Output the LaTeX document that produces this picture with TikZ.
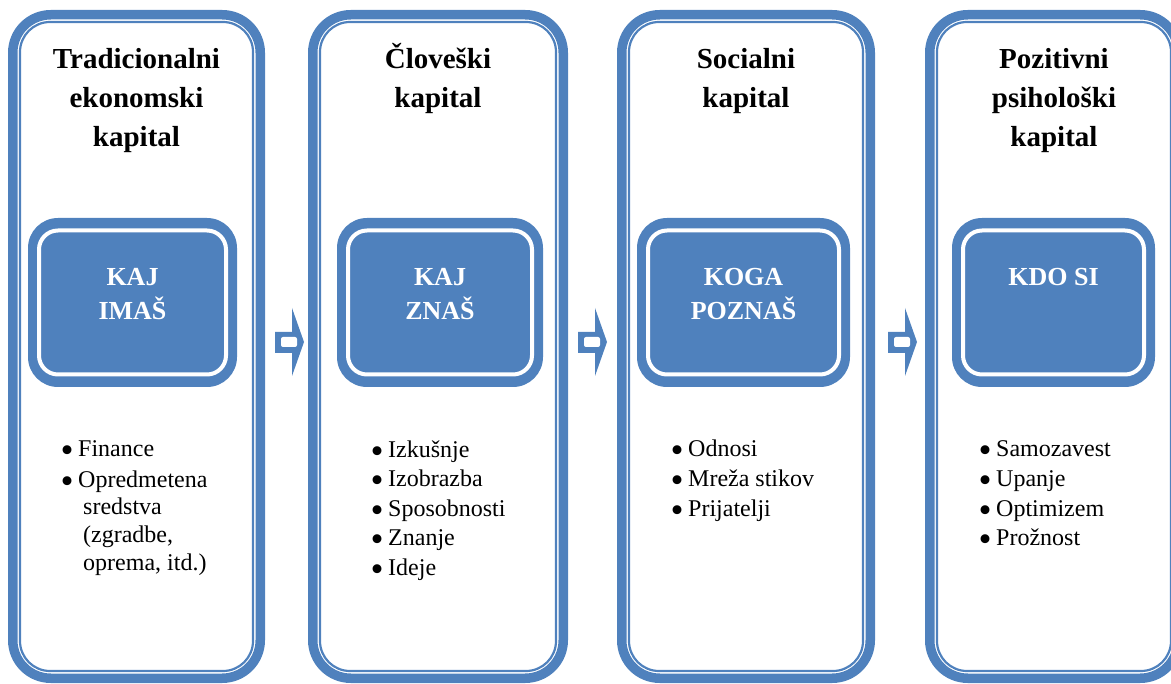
\documentclass[tikz,border=0pt]{standalone}
\usepackage{fontspec}
\usepackage{graphicx}
\setmainfont{Liberation Serif}
\definecolor{capblue}{HTML}{4F81BD}
% list entry: enlarged bullet in a fixed-width slot, then the entry text
\newcommand{\itm}[1]{\makebox[17.5pt][l]{\raisebox{-6pt}{\scalebox{1.55}{•}}}#1}
\begin{document}
\begin{tikzpicture}[x=1pt,y=-1pt,
  band/.style={draw=capblue, line width=9.5pt, rounded corners=38pt},
  rim/.style={draw=capblue, line width=2.2pt, rounded corners=30pt},
  core/.style={fill=capblue, rounded corners=30pt},
  coreline/.style={draw=white, line width=4pt, rounded corners=19pt},
  title/.style={anchor=base, inner sep=0pt, font=\fontsize{29}{35}\selectfont\bfseries},
  key/.style={anchor=base, inner sep=0pt, text=white, font=\fontsize{26}{31}\selectfont\bfseries},
  item/.style={anchor=base west, inner sep=0pt, font=\fontsize{24}{28}\selectfont}]
\useasboundingbox (0,0) rectangle (1171,684);
\clip (0,0) rectangle (1171,684);

% four capital panels: thick outer band with a thin inner rim
\foreach \l/\r in {8/265, 308/568, 617/875, 925/1183} {
  \draw[band] (\l+4.75,14.75) rectangle (\r-4.75,678.25);
  \draw[rim]  (\l+12,22) rectangle (\r-12,671);
}

% filled key boxes with a white inner line
\foreach \a/\b in {28/237, 337/543, 637/850, 952/1155} {
  \fill[core] (\a,218) rectangle (\b,387);
  \draw[coreline] (\a+11,230.5) rectangle (\b-11,374.5);
}

% block arrows between the panels
\foreach \x in {275, 578, 888} {
  \fill[capblue] (\x,332) -- (\x+17,332) -- (\x+17,308) -- (\x+29,342)
    -- (\x+17,376) -- (\x+17,353) -- (\x,353) -- cycle;
  \fill[white, rounded corners=2pt] (\x+6,337) rectangle (\x+22,347);
}

% panel titles
\node[title] (t1a) at (136.5,69)  {Tradicionalni};
\node[title] (t1b) at (136.5,108) {ekonomski};
\node[title] (t1c) at (136.5,147) {kapital};
\node[title] (t2a) at (438,69)    {Človeški};
\node[title] (t2b) at (438,108)   {kapital};
\node[title] (t3a) at (746,69)    {Socialni};
\node[title] (t3b) at (746,108)   {kapital};
\node[title] (t4a) at (1054,69)   {Pozitivni};
\node[title] (t4b) at (1054,108)  {psihološki};
\node[title] (t4c) at (1054,147)  {kapital};

% key questions
\node[key] (k1a) at (132.5,286) {KAJ};
\node[key] (k1b) at (132.5,320) {IMAŠ};
\node[key] (k2a) at (440,286)   {KAJ};
\node[key] (k2b) at (440,320)   {ZNAŠ};
\node[key] (k3a) at (743.5,286) {KOGA};
\node[key] (k3b) at (743.5,320) {POZNAŠ};
\node[key] (k4a) at (1053.5,286) {KDO SI};

% bullet lists
\node[item] (i1a) at (60.5,457)   {\itm{Finance}};
\node[item] (i1b) at (60.5,487.5) {\itm{Opredmetena}};
\node[item] (i1c) at (83,515)     {sredstva};
\node[item] (i1d) at (83,542.5)   {(zgradbe,};
\node[item] (i1e) at (83,570)     {oprema, itd.)};

\node[item] (i2a) at (370.5,457.5) {\itm{Izkušnje}};
\node[item] (i2b) at (370.5,487)   {\itm{Izobrazba}};
\node[item] (i2c) at (370.5,516.5) {\itm{Sposobnosti}};
\node[item] (i2d) at (370.5,546)   {\itm{Znanje}};
\node[item] (i2e) at (370.5,575.5) {\itm{Ideje}};

\node[item] (i3a) at (670.5,457)   {\itm{Odnosi}};
\node[item] (i3b) at (670.5,487)   {\itm{Mreža stikov}};
\node[item] (i3c) at (670.5,516.5) {\itm{Prijatelji}};

\node[item] (i4a) at (978.5,457)   {\itm{Samozavest}};
\node[item] (i4b) at (978.5,487)   {\itm{Upanje}};
\node[item] (i4c) at (978.5,516.5) {\itm{Optimizem}};
\node[item] (i4d) at (978.5,546)   {\itm{Prožnost}};
\end{tikzpicture}
\end{document}
